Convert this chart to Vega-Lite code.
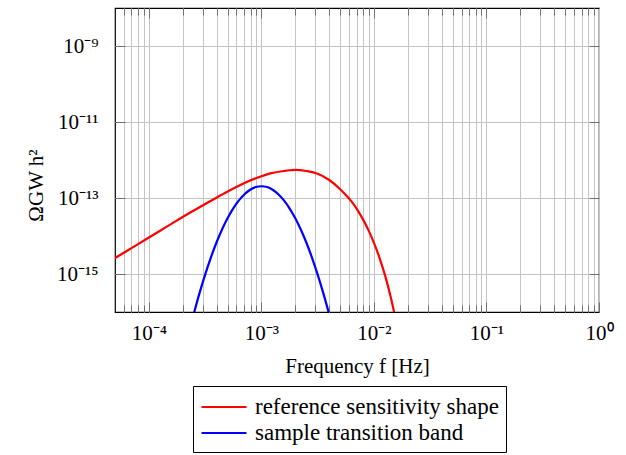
{
  "$schema": "https://vega.github.io/schema/vega-lite/v6.json",
  "width": 484,
  "height": 304,
  "autosize": {"type": "none"},
  "padding": {"left": 115, "top": 8, "right": 27, "bottom": 143},
  "background": "white",
  "config": {
    "view": {"stroke": "black", "strokeWidth": 1.2},
    "font": "Liberation Serif"
  },
  "datasets": {
    "curves": [
      {"f": 4.467e-5, "omega": 2.09e-15, "series": "reference sensitivity shape"},
      {"f": 5.012e-5, "omega": 2.63e-15, "series": "reference sensitivity shape"},
      {"f": 6.310e-5, "omega": 3.98e-15, "series": "reference sensitivity shape"},
      {"f": 7.943e-5, "omega": 6.03e-15, "series": "reference sensitivity shape"},
      {"f": 1e-4, "omega": 9.12e-15, "series": "reference sensitivity shape"},
      {"f": 1.259e-4, "omega": 1.38e-14, "series": "reference sensitivity shape"},
      {"f": 1.585e-4, "omega": 2.09e-14, "series": "reference sensitivity shape"},
      {"f": 1.995e-4, "omega": 3.16e-14, "series": "reference sensitivity shape"},
      {"f": 2.512e-4, "omega": 4.68e-14, "series": "reference sensitivity shape"},
      {"f": 3.162e-4, "omega": 6.92e-14, "series": "reference sensitivity shape"},
      {"f": 3.981e-4, "omega": 1.02e-13, "series": "reference sensitivity shape"},
      {"f": 5.012e-4, "omega": 1.48e-13, "series": "reference sensitivity shape"},
      {"f": 6.310e-4, "omega": 2.09e-13, "series": "reference sensitivity shape"},
      {"f": 7.943e-4, "omega": 2.88e-13, "series": "reference sensitivity shape"},
      {"f": 1e-3, "omega": 3.72e-13, "series": "reference sensitivity shape"},
      {"f": 1.259e-3, "omega": 4.57e-13, "series": "reference sensitivity shape"},
      {"f": 1.585e-3, "omega": 5.13e-13, "series": "reference sensitivity shape"},
      {"f": 1.778e-3, "omega": 5.37e-13, "series": "reference sensitivity shape"},
      {"f": 1.995e-3, "omega": 5.50e-13, "series": "reference sensitivity shape"},
      {"f": 2.512e-3, "omega": 5.13e-13, "series": "reference sensitivity shape"},
      {"f": 3.162e-3, "omega": 4.37e-13, "series": "reference sensitivity shape"},
      {"f": 3.981e-3, "omega": 3.02e-13, "series": "reference sensitivity shape"},
      {"f": 5.012e-3, "omega": 1.70e-13, "series": "reference sensitivity shape"},
      {"f": 5.623e-3, "omega": 1.20e-13, "series": "reference sensitivity shape"},
      {"f": 6.310e-3, "omega": 8.13e-14, "series": "reference sensitivity shape"},
      {"f": 7.079e-3, "omega": 5.01e-14, "series": "reference sensitivity shape"},
      {"f": 7.943e-3, "omega": 2.82e-14, "series": "reference sensitivity shape"},
      {"f": 8.913e-3, "omega": 1.45e-14, "series": "reference sensitivity shape"},
      {"f": 1e-2, "omega": 6.61e-15, "series": "reference sensitivity shape"},
      {"f": 1.122e-2, "omega": 2.63e-15, "series": "reference sensitivity shape"},
      {"f": 1.259e-2, "omega": 8.91e-16, "series": "reference sensitivity shape"},
      {"f": 1.413e-2, "omega": 2.40e-16, "series": "reference sensitivity shape"},
      {"f": 1.585e-2, "omega": 5.01e-17, "series": "reference sensitivity shape"},
      {"f": 2.239e-4, "omega": 2.40e-17, "series": "sample transition band"},
      {"f": 2.512e-4, "omega": 9.16e-17, "series": "sample transition band"},
      {"f": 2.818e-4, "omega": 3.14e-16, "series": "sample transition band"},
      {"f": 3.162e-4, "omega": 9.66e-16, "series": "sample transition band"},
      {"f": 3.548e-4, "omega": 2.67e-15, "series": "sample transition band"},
      {"f": 3.981e-4, "omega": 6.64e-15, "series": "sample transition band"},
      {"f": 4.467e-4, "omega": 1.48e-14, "series": "sample transition band"},
      {"f": 5.012e-4, "omega": 2.97e-14, "series": "sample transition band"},
      {"f": 5.623e-4, "omega": 5.36e-14, "series": "sample transition band"},
      {"f": 6.310e-4, "omega": 8.67e-14, "series": "sample transition band"},
      {"f": 7.079e-4, "omega": 1.26e-13, "series": "sample transition band"},
      {"f": 7.943e-4, "omega": 1.65e-13, "series": "sample transition band"},
      {"f": 8.913e-4, "omega": 1.94e-13, "series": "sample transition band"},
      {"f": 1e-3, "omega": 2.04e-13, "series": "sample transition band"},
      {"f": 1.122e-3, "omega": 1.94e-13, "series": "sample transition band"},
      {"f": 1.259e-3, "omega": 1.65e-13, "series": "sample transition band"},
      {"f": 1.413e-3, "omega": 1.26e-13, "series": "sample transition band"},
      {"f": 1.585e-3, "omega": 8.67e-14, "series": "sample transition band"},
      {"f": 1.778e-3, "omega": 5.36e-14, "series": "sample transition band"},
      {"f": 1.995e-3, "omega": 2.97e-14, "series": "sample transition band"},
      {"f": 2.239e-3, "omega": 1.48e-14, "series": "sample transition band"},
      {"f": 2.512e-3, "omega": 6.64e-15, "series": "sample transition band"},
      {"f": 2.818e-3, "omega": 2.67e-15, "series": "sample transition band"},
      {"f": 3.162e-3, "omega": 9.66e-16, "series": "sample transition band"},
      {"f": 3.548e-3, "omega": 3.14e-16, "series": "sample transition band"},
      {"f": 3.981e-3, "omega": 9.16e-17, "series": "sample transition band"},
      {"f": 4.467e-3, "omega": 2.40e-17, "series": "sample transition band"}
    ]
  },
  "data": {"name": "curves"},
  "layer": [
    {
      "mark": {"type": "line", "strokeWidth": 2.2, "clip": true, "interpolate": "monotone"},
      "encoding": {
        "x": {
          "field": "f",
          "type": "quantitative",
          "scale": {"type": "log", "domain": [5e-5, 1], "nice": false},
          "axis": {
            "orient": "bottom",
            "values": [6e-5, 7e-5, 8e-5, 9e-5, 1e-4, 2e-4, 3e-4, 4e-4, 5e-4, 6e-4, 7e-4, 8e-4, 9e-4, 1e-3, 2e-3, 3e-3, 4e-3, 5e-3, 6e-3, 7e-3, 8e-3, 9e-3, 1e-2, 2e-2, 3e-2, 4e-2, 5e-2, 6e-2, 7e-2, 8e-2, 9e-2, 0.1, 0.2, 0.3, 0.4, 0.5, 0.6, 0.7, 0.8, 0.9, 1],
            "grid": true,
            "gridColor": "#c4c4c4",
            "gridWidth": 1,
            "domain": false,
            "tickColor": "#707070",
            "tickWidth": 1,
            "tickSize": {"condition": {"test": "abs(log(datum.value)/LN10 - round(log(datum.value)/LN10)) < 0.01", "value": -10}, "value": -7},
            "labelExpr": "abs(datum.value-1)<1e-9?'10⁰':abs(datum.value-0.1)<1e-9?'10⁻¹':abs(datum.value-0.01)<1e-10?'10⁻²':abs(datum.value-0.001)<1e-11?'10⁻³':abs(datum.value-0.0001)<1e-12?'10⁻⁴':''",
            "labelFontSize": 21,
            "labelColor": "black",
            "labelPadding": 20,
            "labelOverlap": false,
            "labelFlush": false,
            "title": "Frequency f [Hz]",
            "titleFontSize": 21,
            "titleFontWeight": "normal",
            "titleColor": "black",
            "titlePadding": 9
          }
        },
        "y": {
          "field": "omega",
          "type": "quantitative",
          "scale": {"type": "log", "domain": [1e-16, 1e-8], "nice": false},
          "axis": {
            "orient": "left",
            "values": [1e-15, 1e-13, 1e-11, 1e-9],
            "grid": true,
            "gridColor": "#c4c4c4",
            "gridWidth": 1,
            "domain": false,
            "tickColor": "#707070",
            "tickSize": -10,
            "labelExpr": "datum.value<5e-15?'10⁻¹⁵':datum.value<5e-13?'10⁻¹³':datum.value<5e-11?'10⁻¹¹':'10⁻⁹'",
            "labelFontSize": 21,
            "labelColor": "black",
            "labelPadding": 27,
            "labelFlush": false,
            "title": "ΩGW h²",
            "titleFontSize": 21,
            "titleFontWeight": "normal",
            "titleColor": "black",
            "titleX": -79,
            "titleY": 177,
            "titleAngle": -90,
            "titleAlign": "center",
            "titleBaseline": "middle"
          }
        },
        "color": {
          "field": "series",
          "type": "nominal",
          "scale": {"domain": ["reference sensitivity shape", "sample transition band"], "range": ["#ff0000", "#0000ff"]},
          "legend": {
            "orient": "none",
            "legendX": 78,
            "legendY": 378,
            "title": null,
            "symbolType": "M-1.8,0H1.8",
            "symbolSize": 625,
            "symbolOffset": 10,
            "symbolStrokeWidth": 2.2,
            "labelFontSize": 23,
            "labelLimit": 400,
            "labelColor": "black",
            "labelOffset": 17,
            "rowPadding": 0,
            "padding": 7,
            "strokeColor": "black",
            "fillColor": "white",
            "cornerRadius": 0
          }
        }
      }
    },
    {
      "mark": {"type": "line", "opacity": 0, "clip": true},
      "encoding": {
        "x": {
          "field": "f",
          "type": "quantitative",
          "scale": {"type": "log", "domain": [5e-5, 1], "nice": false},
          "axis": {
            "orient": "top",
            "values": [6e-5, 7e-5, 8e-5, 9e-5, 1e-4, 2e-4, 3e-4, 4e-4, 5e-4, 6e-4, 7e-4, 8e-4, 9e-4, 1e-3, 2e-3, 3e-3, 4e-3, 5e-3, 6e-3, 7e-3, 8e-3, 9e-3, 1e-2, 2e-2, 3e-2, 4e-2, 5e-2, 6e-2, 7e-2, 8e-2, 9e-2, 0.1, 0.2, 0.3, 0.4, 0.5, 0.6, 0.7, 0.8, 0.9],
            "grid": false,
            "domain": false,
            "labels": false,
            "title": null,
            "tickColor": "#707070",
            "tickSize": {"condition": {"test": "abs(log(datum.value)/LN10 - round(log(datum.value)/LN10)) < 0.01", "value": -10}, "value": -7}
          }
        },
        "y": {
          "field": "omega",
          "type": "quantitative",
          "scale": {"type": "log", "domain": [1e-16, 1e-8], "nice": false},
          "axis": {
            "orient": "right",
            "values": [1e-15, 1e-13, 1e-11, 1e-9],
            "grid": false,
            "domain": false,
            "labels": false,
            "title": null,
            "tickColor": "#707070",
            "tickSize": -10
          }
        },
        "detail": {"field": "series", "type": "nominal"}
      }
    }
  ],
  "resolve": {"axis": {"x": "independent", "y": "independent"}}
}
